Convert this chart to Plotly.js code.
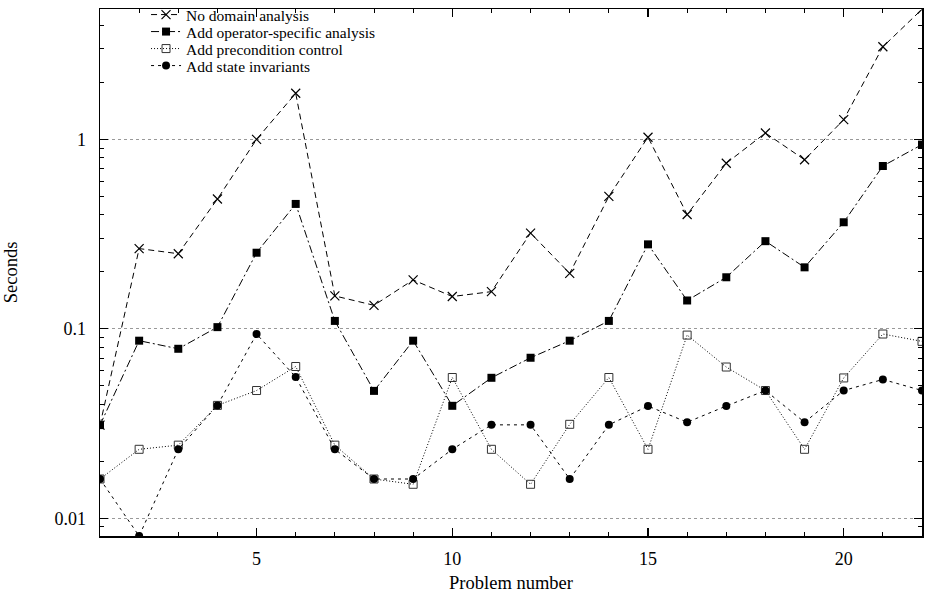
<!DOCTYPE html>
<html>
<head>
<meta charset="utf-8">
<script src="https://cdn.plot.ly/plotly-3.0.1.min.js"></script>
<style>html,body{margin:0;padding:0;background:#fff;}#chart{width:925px;height:594px;}</style>
</head>
<body>
<div id="chart"></div>
<script>
const problems = [1,2,3,4,5,6,7,8,9,10,11,12,13,14,15,16,17,18,19,20,21,22];
const seriesNames = ["No domain analysis","Add operator-specific analysis","Add precondition control","Add state invariants"];
const noDomain = [0.031,0.265,0.249,0.484,1.0,1.75,0.149,0.133,0.181,0.148,0.157,0.32,0.196,0.50,1.026,0.401,0.748,1.08,0.78,1.27,3.08,4.86];
const operatorSpecific = [0.031,0.0865,0.0784,0.102,0.252,0.456,0.110,0.047,0.0865,0.0392,0.0551,0.0703,0.0865,0.110,0.279,0.141,0.187,0.290,0.211,0.365,0.723,0.938];
const preconditionControl = [0.0161,0.0231,0.0243,0.0394,0.0472,0.0632,0.0243,0.0161,0.0151,0.0553,0.0231,0.0151,0.0313,0.0553,0.0231,0.0926,0.0628,0.0472,0.0231,0.055,0.0938,0.0858];
const stateInvariants = [0.0161,0.00805,0.0231,0.0394,0.0938,0.0556,0.0231,0.0161,0.0161,0.0231,0.0311,0.0311,0.0161,0.0311,0.0391,0.0321,0.0391,0.0472,0.0321,0.0472,0.054,0.0472];
const xTickVals = [5,10,15,20];
const yTickVals = [0.01,0.1,1];
const yTickText = ["0.01","0.1","1"];
const yMinorVals = [0.009,0.02,0.03,0.04,0.05,0.06,0.07,0.08,0.09,0.2,0.3,0.4,0.5,0.6,0.7,0.8,0.9,2,3,4];

const FONT = "Liberation Serif, Times New Roman, serif";
const traces = [
  {x: problems, y: noDomain, name: seriesNames[0], mode: "lines+markers", legend: "legend",
   line: {color: "#000", width: 1, dash: "6px,4px"},
   marker: {symbol: "x-thin-open", size: 9, color: "#000", line: {color: "#000", width: 1.2}}},
  {x: problems, y: operatorSpecific, name: seriesNames[1], mode: "lines+markers", legend: "legend2",
   line: {color: "#000", width: 1, dash: "8px,3px,2px,3px"},
   marker: {symbol: "square", size: 8, color: "#000"}},
  {x: problems, y: preconditionControl, name: seriesNames[2], mode: "lines+markers", legend: "legend3",
   line: {color: "#000", width: 1, dash: "1px,2px"},
   marker: {symbol: "square-open", size: 8, color: "#333", line: {color: "#333", width: 1}}},
  {x: problems, y: stateInvariants, name: seriesNames[3], mode: "lines+markers", legend: "legend4",
   line: {color: "#000", width: 1, dash: "3px,4px"},
   marker: {symbol: "circle", size: 8, color: "#000"}}
];

function legendAt(rowPx) {
  return {x: 0.056, y: (536 - rowPx) / 527, xanchor: "left", yanchor: "middle",
          bgcolor: "rgba(0,0,0,0)", borderwidth: 0,
          font: {family: FONT, size: 15.5, color: "#000"}};
}

const layout = {
  width: 925, height: 594,
  margin: {l: 100, r: 3, t: 9, b: 58, pad: 0, autoexpand: false},
  paper_bgcolor: "#fff", plot_bgcolor: "#fff",
  font: {family: FONT, size: 18, color: "#000"},
  showlegend: true,
  legend: legendAt(15),
  legend2: legendAt(32),
  legend3: legendAt(49),
  legend4: legendAt(66),
  xaxis: {
    range: [1, 22], tickmode: "array", tickvals: xTickVals,
    ticks: "inside", ticklen: 8, tickwidth: 1.2, tickcolor: "#000",
    showline: true, linecolor: "#000", linewidth: 1.5, mirror: "ticks",
    showgrid: false, zeroline: false,
    minor: {tickmode: "array", tickvals: problems, ticks: "inside", ticklen: 4, tickwidth: 1, tickcolor: "#000", showgrid: false},
    tickfont: {family: FONT, size: 18},
    ticklabelstandoff: 6,
    title: {text: "Problem number", font: {family: FONT, size: 18.5}, standoff: 8}
  },
  yaxis: {
    type: "log", range: [-2.094, 0.688], tickmode: "array", tickvals: yTickVals, ticktext: yTickText,
    ticks: "inside", ticklen: 8, tickwidth: 1.2, tickcolor: "#000",
    showline: true, linecolor: "#000", linewidth: 1.5, mirror: "ticks",
    showgrid: true, gridcolor: "#999", griddash: "dot", gridwidth: 1, zeroline: false,
    minor: {tickmode: "array", tickvals: yMinorVals, ticks: "inside", ticklen: 4, tickwidth: 1, tickcolor: "#000", showgrid: false},
    tickfont: {family: FONT, size: 18},
    ticklabelstandoff: 9,
    title: {text: "Seconds", font: {family: FONT, size: 18.5}, standoff: 32}
  }
};
Plotly.newPlot("chart", traces, layout, {displayModeBar: false, staticPlot: true});
</script>
</body>
</html>
